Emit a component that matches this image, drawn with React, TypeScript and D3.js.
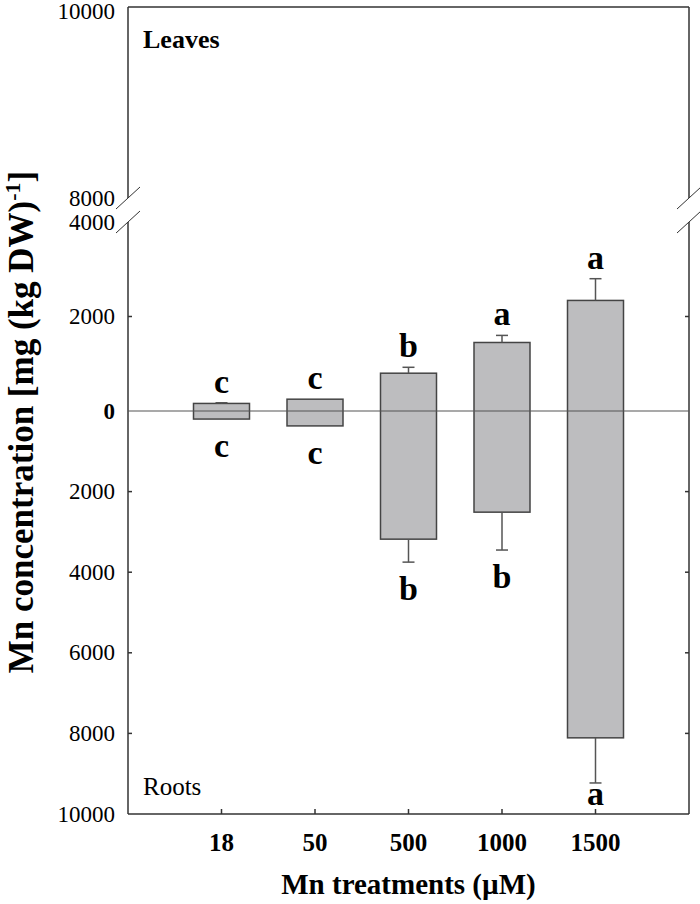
import React from "react";
import * as d3 from "d3";

// Mn treatments (µM)
const treatments = ["18", "50", "500", "1000", "1500"];
// leaves: mean and error (mg/kg DW)
const leafMean = [160, 250, 800, 1450, 2340];
const leafErr = [15, 0, 125, 150, 460];
const leafLetters = ["c", "c", "b", "a", "a"];
// roots: mean and error (mg/kg DW)
const rootMean = [200, 370, 3180, 2510, 8110];
const rootErr = [0, 0, 570, 940, 1120];
const rootLetters = ["c", "c", "b", "b", "a"];

const topTicks = [10000, 8000];
const midTicks = [4000, 2000, 0];
const rootTicks = [2000, 4000, 6000, 8000, 10000];

const W = 700;
const H = 904;
const left = 128;
const right = 689;
const serif = "'Liberation Serif', 'Times New Roman', serif";
const axisColor = "#333";

export default function App() {
  const x = d3.scaleLinear().domain([0, treatments.length + 1]).range([left, right]);
  const yTop = d3.scaleLinear().domain([8000, 10000]).range([198, 7]);
  const yMid = d3.scaleLinear().domain([0, 4000]).range([411, 222]);
  const yRoot = d3.scaleLinear().domain([0, 10000]).range([411, 814]);
  const barW = 56;

  const slash = (cx: number, cy: number) => `M${cx - 12},${cy + 11}L${cx + 12},${cy - 11}`;

  const axisSide = (ax: number, dir: number) => (
    <g stroke={axisColor} strokeWidth={1.5} fill="none">
      <line x1={ax} x2={ax} y1={yTop(10000)} y2={yTop(8000)} />
      <line x1={ax} x2={ax} y1={yMid(4000)} y2={yRoot(10000)} />
      <path d={slash(ax, yTop(8000))} strokeWidth={1} />
      <path d={slash(ax, yMid(4000))} strokeWidth={1} />
      {[2000].map((t) => (
        <line key={"m" + t} x1={ax} x2={ax + dir * 4} y1={yMid(t)} y2={yMid(t)} />
      ))}
      {rootTicks.slice(0, 4).map((t) => (
        <line key={"r" + t} x1={ax} x2={ax + dir * 4} y1={yRoot(t)} y2={yRoot(t)} />
      ))}
    </g>
  );

  const tickLabel = (t: number, y: number, bold = false) => (
    <text
      key={`${t}-${y}`}
      x={115}
      y={y}
      textAnchor="end"
      dominantBaseline="central"
      fontSize={23}
      fontWeight={bold ? "bold" : "normal"}
    >
      {t}
    </text>
  );

  return (
    <svg width={W} height={H} style={{ position: "absolute", left: 0, top: 0 }} fontFamily={serif}>
      <rect width={W} height={H} fill="#fff" />

      {/* frame */}
      <line x1={left} x2={right} y1={yTop(10000)} y2={yTop(10000)} stroke={axisColor} strokeWidth={1.5} />
      <line x1={left} x2={right} y1={yRoot(10000)} y2={yRoot(10000)} stroke={axisColor} strokeWidth={1.5} />
      {axisSide(left, 1)}
      {axisSide(right, -1)}

      {/* x ticks */}
      {treatments.map((t, i) => (
        <line key={t} x1={x(i + 1)} x2={x(i + 1)} y1={yRoot(10000)} y2={yRoot(10000) - 5} stroke={axisColor} strokeWidth={1.5} />
      ))}

      {/* y tick labels */}
      {topTicks.map((t) => tickLabel(t, t === 10000 ? yTop(t) + 4 : yTop(t)))}
      {midTicks.map((t) => tickLabel(t, yMid(t), t === 0))}
      {rootTicks.map((t) => tickLabel(t, yRoot(t)))}

      {/* bars */}
      {treatments.map((t, i) => {
        const cx = x(i + 1);
        const capL = yMid(leafMean[i] + leafErr[i]);
        const capR = yRoot(rootMean[i] + rootErr[i]);
        return (
          <g key={t}>
            <rect
              x={cx - barW / 2}
              y={yMid(leafMean[i])}
              width={barW}
              height={yRoot(rootMean[i]) - yMid(leafMean[i])}
              fill="#bdbdbf"
              stroke="#444"
              strokeWidth={1.5}
            />
            {leafErr[i] > 0 && (
              <g stroke="#555" strokeWidth={1.5}>
                <line x1={cx} x2={cx} y1={yMid(leafMean[i])} y2={capL} />
                <line x1={cx - 6} x2={cx + 6} y1={capL} y2={capL} />
              </g>
            )}
            {rootErr[i] > 0 && (
              <g stroke="#555" strokeWidth={1.5}>
                <line x1={cx} x2={cx} y1={yRoot(rootMean[i])} y2={capR} />
                <line x1={cx - 6} x2={cx + 6} y1={capR} y2={capR} />
              </g>
            )}
            <text x={cx} y={capL - 10} textAnchor="middle" fontSize={34} fontWeight="bold">
              {leafLetters[i]}
            </text>
            <text
              x={cx}
              y={Math.min(capR + 38, yRoot(10000) - 9)}
              textAnchor="middle"
              fontSize={34}
              fontWeight="bold"
            >
              {rootLetters[i]}
            </text>
          </g>
        );
      })}

      {/* zero line */}
      <line x1={left} x2={right} y1={yMid(0)} y2={yMid(0)} stroke="#555" strokeWidth={1.2} />

      {/* x labels */}
      {treatments.map((t, i) => (
        <text key={t} x={x(i + 1)} y={851} textAnchor="middle" fontSize={25} fontWeight="bold">
          {t}
        </text>
      ))}

      <text x={143} y={48} fontSize={26} fontWeight="bold">Leaves</text>
      <text x={143} y={795} fontSize={25}>Roots</text>

      <text x={(left + right) / 2} y={894} textAnchor="middle" fontSize={29} fontWeight="bold">
        Mn treatments (µM)
      </text>
      <text
        transform={`translate(33,${422}) rotate(-90)`}
        textAnchor="middle"
        fontSize={35}
        fontWeight="bold"
      >
        Mn concentration [mg (kg DW)
        <tspan dy={-13} fontSize={22}>-1</tspan>
        <tspan dy={13}>]</tspan>
      </text>
    </svg>
  );
}
